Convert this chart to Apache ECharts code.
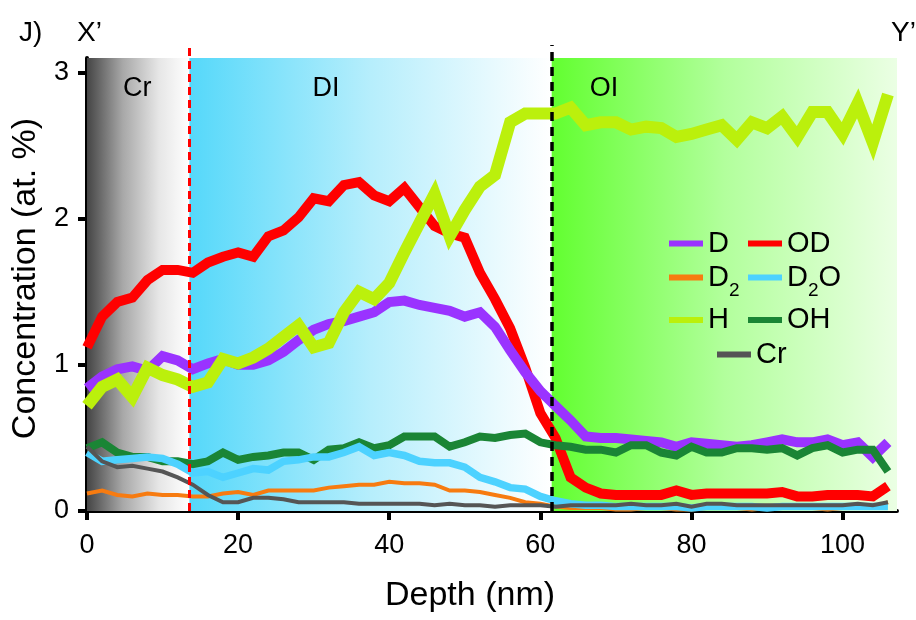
<!DOCTYPE html>
<html>
<head>
<meta charset="utf-8">
<title>Concentration vs depth</title>
<script src="https://cdn.jsdelivr.net/npm/echarts@6.0.0/dist/echarts.min.js"></script>
<style>
  html, body { margin: 0; padding: 0; background: #fff; }
  #chart { width: 916px; height: 620px; }
</style>
</head>
<body>
<div id="chart"></div>
<script>
// depth (nm), one sample every 2 nm
var depth = [0, 2, 4, 6, 8, 10, 12, 14, 16, 18, 20, 22, 24, 26, 28, 30, 32, 34, 36, 38,
  40, 42, 44, 46, 48, 50, 52, 54, 56, 58, 60, 62, 64, 66, 68, 70, 72, 74, 76, 78,
  80, 82, 84, 86, 88, 90, 92, 94, 96, 98, 100, 102, 104, 106];

// concentrations (at. %)
var valD = [0.84, 0.92, 0.97, 0.99, 0.96, 1.06, 1.03, 0.97, 1.01, 1.04, 1.00, 1.00, 1.03, 1.09, 1.17, 1.24, 1.28, 1.30, 1.33, 1.36,
  1.43, 1.44, 1.41, 1.39, 1.37, 1.33, 1.36, 1.26, 1.10, 0.95, 0.82, 0.72, 0.62, 0.51, 0.50, 0.50, 0.49, 0.48, 0.47, 0.44,
  0.47, 0.46, 0.45, 0.44, 0.45, 0.47, 0.49, 0.47, 0.47, 0.49, 0.45, 0.47, 0.37, 0.47];
var valOD = [1.12, 1.33, 1.43, 1.46, 1.58, 1.65, 1.65, 1.63, 1.70, 1.74, 1.77, 1.74, 1.88, 1.92, 2.01, 2.14, 2.12, 2.23, 2.25, 2.16,
  2.12, 2.21, 2.08, 1.95, 1.90, 1.87, 1.63, 1.45, 1.25, 0.98, 0.67, 0.50, 0.23, 0.16, 0.12, 0.11, 0.11, 0.11, 0.11, 0.14,
  0.11, 0.12, 0.12, 0.12, 0.12, 0.12, 0.13, 0.10, 0.10, 0.11, 0.11, 0.11, 0.10, 0.17];
var valD2 = [0.12, 0.14, 0.11, 0.10, 0.12, 0.11, 0.11, 0.10, 0.10, 0.12, 0.13, 0.11, 0.14, 0.14, 0.14, 0.14, 0.16, 0.17, 0.18, 0.18,
  0.20, 0.19, 0.19, 0.18, 0.14, 0.14, 0.13, 0.11, 0.09, 0.06, 0.05, 0.03, 0.02, 0.02, 0.02, 0.01, 0.01, 0.02, 0.02, 0.01,
  0.01, 0.02, 0.02, 0.02, 0.01, 0.02, 0.02, 0.02, 0.02, 0.01, 0.02, 0.02, 0.02, 0.06];
var valD2O = [0.40, 0.34, 0.35, 0.36, 0.37, 0.36, 0.32, 0.26, 0.27, 0.23, 0.26, 0.29, 0.28, 0.34, 0.35, 0.37, 0.37, 0.40, 0.44, 0.38,
  0.40, 0.38, 0.34, 0.33, 0.33, 0.30, 0.23, 0.20, 0.16, 0.15, 0.10, 0.07, 0.05, 0.04, 0.04, 0.03, 0.03, 0.03, 0.03, 0.03,
  0.02, 0.03, 0.03, 0.03, 0.03, 0.02, 0.03, 0.03, 0.03, 0.03, 0.03, 0.03, 0.03, 0.03];
var valH = [0.72, 0.85, 0.90, 0.78, 0.98, 0.93, 0.90, 0.85, 0.88, 1.04, 1.01, 1.05, 1.11, 1.19, 1.27, 1.12, 1.15, 1.36, 1.50, 1.45,
  1.56, 1.77, 1.97, 2.17, 1.88, 2.06, 2.22, 2.30, 2.66, 2.72, 2.72, 2.72, 2.76, 2.64, 2.66, 2.66, 2.61, 2.63, 2.62, 2.56,
  2.58, 2.61, 2.64, 2.54, 2.66, 2.62, 2.70, 2.56, 2.73, 2.73, 2.58, 2.79, 2.52, 2.85];
var valOH = [0.43, 0.47, 0.40, 0.37, 0.37, 0.34, 0.34, 0.32, 0.34, 0.40, 0.35, 0.37, 0.38, 0.40, 0.40, 0.35, 0.42, 0.43, 0.47, 0.43,
  0.45, 0.51, 0.51, 0.51, 0.44, 0.47, 0.51, 0.50, 0.52, 0.53, 0.47, 0.45, 0.44, 0.42, 0.42, 0.40, 0.45, 0.45, 0.40, 0.38,
  0.44, 0.40, 0.40, 0.43, 0.43, 0.42, 0.43, 0.38, 0.43, 0.45, 0.40, 0.42, 0.42, 0.27];
var valCr = [0.44, 0.34, 0.30, 0.31, 0.29, 0.27, 0.23, 0.18, 0.11, 0.06, 0.06, 0.09, 0.09, 0.08, 0.06, 0.06, 0.06, 0.06, 0.05, 0.05,
  0.05, 0.05, 0.05, 0.04, 0.05, 0.04, 0.04, 0.03, 0.04, 0.04, 0.04, 0.03, 0.04, 0.04, 0.04, 0.04, 0.05, 0.04, 0.04, 0.05,
  0.03, 0.05, 0.05, 0.04, 0.04, 0.04, 0.04, 0.04, 0.04, 0.04, 0.04, 0.05, 0.04, 0.06];

var xTicks = [0, 20, 40, 60, 80, 100];
var yTicks = [0, 1, 2, 3];

// layer boundaries (nm)
var crEnd = 13.55;
var diEnd = 61.5;
var depthMax = 107.2;

var FONT = 'Liberation Sans, Arial, sans-serif';

function pairs (vals) {
  return depth.map(function (d, i) { return [d, vals[i]]; });
}

function hGrad (stops) {
  return {
    type: 'linear', x: 0, y: 0, x2: 1, y2: 0,
    colorStops: stops.map(function (s) { return { offset: s[0], color: s[1] }; })
  };
}

function lineSeries (name, vals, color, width) {
  return {
    name: name,
    type: 'line',
    data: pairs(vals),
    symbol: 'none',
    showSymbol: false,
    silent: true,
    lineStyle: { color: color, width: width, join: 'miter', cap: 'butt' },
    itemStyle: { color: color },
    z: 3
  };
}

var legendText = {
  fontFamily: FONT,
  fontSize: 29,
  color: '#000',
  rich: {
    n: { fontFamily: FONT, fontSize: 29, lineHeight: 32, color: '#000' },
    s: { fontFamily: FONT, fontSize: 19, lineHeight: 19, verticalAlign: 'bottom', padding: [0, 0, -7, 0], color: '#000' }
  }
};

function legendLabel (name) {
  if (name === 'D2') return '{n|D}{s|2}';
  if (name === 'D2O') return '{n|D}{s|2}{n|O}';
  return '{n|' + name + '}';
}

function legendBox (names, left, top) {
  return {
    data: names,
    orient: 'vertical',
    left: left,
    top: top,
    itemGap: 5,
    icon: 'rect',
    itemWidth: 34,
    itemHeight: 6,
    selectedMode: false,
    formatter: legendLabel,
    textStyle: legendText
  };
}

var regionLabel = { show: true, fontFamily: FONT, fontSize: 27, color: '#000' };

var myChart = echarts.init(document.getElementById('chart'));

var option = {
  animation: false,
  backgroundColor: '#fff',
  textStyle: { fontFamily: FONT },
  grid: [
    { left: 87, right: 19, top: 58, bottom: 109 },
    // same plot, taller: only for the dashed layer boundaries that poke above the frame
    { left: 87, right: 19, top: 45, bottom: 109 }
  ],
  graphic: [
    { type: 'text', left: 19, top: 19, style: { text: 'J)', fontFamily: FONT, fontSize: 28, fill: '#000' } },
    { type: 'text', left: 77, top: 19, style: { text: 'X\u2019', fontFamily: FONT, fontSize: 28, fill: '#000' } },
    { type: 'text', left: 891, top: 19, style: { text: 'Y\u2019', fontFamily: FONT, fontSize: 28, fill: '#000' } }
  ],
  legend: [
    legendBox(['D', 'D2', 'H'], 664, 224),
    legendBox(['OD', 'D2O', 'OH'], 743, 224),
    legendBox(['Cr'], 712, 335)
  ],
  xAxis: [
    {
      type: 'value',
      min: 0,
      max: depthMax,
      name: 'Depth (nm)',
      nameLocation: 'middle',
      nameGap: 68,
      nameTextStyle: { fontFamily: FONT, fontSize: 34, color: '#000', padding: [0, 44, 0, 0] },
      axisLine: { show: true, onZero: false, lineStyle: { color: '#000', width: 4 } },
      axisTick: { show: true, length: 9, customValues: xTicks, lineStyle: { color: '#000', width: 4 } },
      axisLabel: { fontFamily: FONT, fontSize: 27, color: '#000', margin: 21, customValues: xTicks },
      splitLine: { show: false }
    },
    { type: 'value', gridIndex: 1, min: 0, max: depthMax, show: false }
  ],
  yAxis: [
    {
      type: 'value',
      min: 0,
      max: 3.1,
      name: 'Concentration (at. %)',
      nameLocation: 'middle',
      nameGap: 40,
      nameTextStyle: { fontFamily: FONT, fontSize: 34, color: '#000', padding: [0, 0, 0, 12] },
      axisLine: { show: true, lineStyle: { color: '#000', width: 4 } },
      axisTick: { show: true, length: 9, customValues: yTicks, lineStyle: { color: '#000', width: 4 } },
      axisLabel: { fontFamily: FONT, fontSize: 27, color: '#000', margin: 18, customValues: yTicks },
      splitLine: { show: false }
    },
    { type: 'value', gridIndex: 1, min: 0, max: 1, show: false }
  ],
  series: [
    {
      // layer backgrounds
      type: 'line',
      data: [],
      silent: true,
      markArea: {
        silent: true,
        emphasis: { disabled: true },
        data: [
          [{ xAxis: 0, itemStyle: { color: hGrad([[0, '#454545'], [0.35, '#a8a8a8'], [0.7, '#e6e6e6'], [1, '#ffffff']]) },
             label: Object.assign({ position: [36, 17] }, regionLabel), name: 'Cr' }, { xAxis: crEnd }],
          [{ xAxis: crEnd, itemStyle: { color: hGrad([[0, '#55d8fa'], [0.5, '#b6eefc'], [1, '#ffffff']]) },
             label: Object.assign({ position: [123, 17] }, regionLabel), name: 'DI' }, { xAxis: diEnd }],
          [{ xAxis: diEnd, itemStyle: { color: hGrad([[0, '#62ff30'], [0.5, '#b2ff9c'], [1, '#ebffe4']]) },
             label: Object.assign({ position: [38, 17] }, regionLabel), name: 'OI' }, { xAxis: depthMax }]
        ]
      }
    },
    lineSeries('OD', valOD, '#ff0000', 10),
    lineSeries('D', valD, '#9a33ff', 10),
    lineSeries('H', valH, '#bbf00c', 12),
    lineSeries('D2', valD2, '#f77b10', 4),
    lineSeries('OH', valOH, '#1a8535', 8),
    lineSeries('D2O', valD2O, '#4dd2ff', 7.5),
    lineSeries('Cr', valCr, '#555555', 4),
    {
      // dashed layer boundaries
      type: 'line',
      xAxisIndex: 1,
      yAxisIndex: 1,
      data: [],
      silent: true,
      z: 5,
      markLine: {
        silent: true,
        symbol: ['none', 'none'],
        label: { show: false },
        emphasis: { disabled: true },
        data: [
          { xAxis: crEnd, lineStyle: { color: '#ff0000', width: 3, type: [8, 5] } },
          { xAxis: diEnd, lineStyle: { color: '#000000', width: 3.5, type: [9, 6] } }
        ]
      }
    }
  ]
};

myChart.setOption(option);
</script>
</body>
</html>
